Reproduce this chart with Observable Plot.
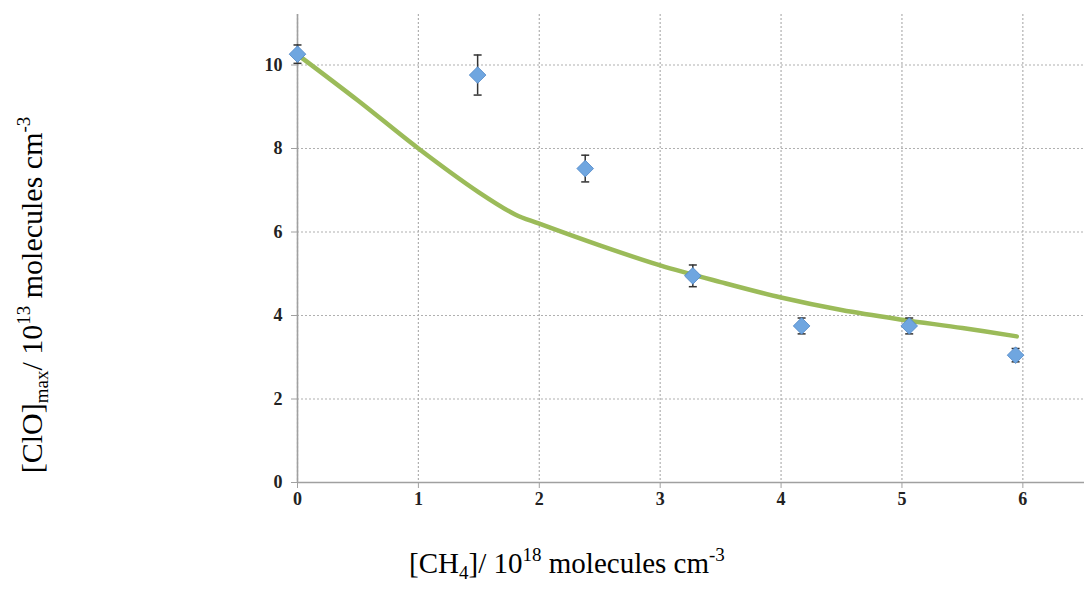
<!DOCTYPE html>
<html><head><meta charset="utf-8">
<script src="https://cdn.jsdelivr.net/npm/d3@7"></script>
<script src="https://cdn.jsdelivr.net/npm/@observablehq/plot@0.6"></script>
<style>
body{margin:0;background:#fff}
#chart{position:relative;width:1084px;height:589px}
#chart svg g[aria-label$="tick label"], #chart svg g[aria-label$="tick label"] text {
  font-size: 18px !important;
  font-family: 'Liberation Serif', 'Times New Roman', serif !important;
  font-weight: bold !important;
}
</style>
</head><body><div id="chart"></div>
<script>
// measured points: [CH4] (1e18 molecules cm-3), [ClO]max (1e13 molecules cm-3), error
const ch4 = [0, 1.49, 2.38, 3.27, 4.17, 5.06, 5.94];
const clo = [10.26, 9.76, 7.52, 4.95, 3.75, 3.75, 3.05];
const cloErr = [0.22, 0.48, 0.32, 0.26, 0.19, 0.19, 0.16];
// model curve
const fitX = [0, 0.5, 1, 1.5, 1.8, 2, 2.5, 3, 3.5, 4, 4.5, 5, 5.5, 5.95];
const fitY = [10.25, 9.15, 8.0, 6.95, 6.42, 6.2, 5.68, 5.2, 4.8, 4.43, 4.13, 3.9, 3.7, 3.5];
const xTicks = [0, 1, 2, 3, 4, 5, 6];
const yTicks = [0, 2, 4, 6, 8, 10];

const points = ch4.map((x, i) => ({x, y: clo[i], e: cloErr[i]}));
const fit = fitX.map((x, i) => ({x, y: fitY[i]}));

const cap = {draw(ctx) { ctx.moveTo(-4, 0); ctx.lineTo(4, 0); }};
const gridStyle = {stroke: "#b0b0b0", strokeOpacity: 1, strokeDasharray: "2,2", strokeWidth: 1.2};
const tickFont = "'Liberation Serif', 'Times New Roman', serif";

const chart = Plot.plot({
  width: 1084, height: 589,
  marginLeft: 297, marginRight: 0, marginTop: 14, marginBottom: 107,
  style: {fontFamily: tickFont, fontSize: "18px", color: "#222", background: "#fff"},
  x: {domain: [0, 6.51]},
  y: {domain: [0, 11.21]},
  marks: [
    Plot.gridX(xTicks, gridStyle),
    Plot.gridY(yTicks, gridStyle),
    Plot.ruleX([0], {stroke: "#a0a0a0", strokeWidth: 1.6}),
    Plot.ruleY([0], {stroke: "#a0a0a0", strokeWidth: 1.6}),
    Plot.axisX(xTicks, {tickSize: 6, tickPadding: 4, stroke: "#a0a0a0", fill: "#222", label: null, tickFormat: d => d}),
    Plot.axisY(yTicks, {tickSize: 6, tickPadding: 9, stroke: "#a0a0a0", fill: "#222", label: null, tickFormat: d => d}),
    Plot.line(fit, {x: "x", y: "y", stroke: "#9bbb59", strokeWidth: 4.5, curve: "catmull-rom"}),
    Plot.ruleX(points, {x: "x", y1: d => d.y - d.e, y2: d => d.y + d.e, stroke: "#333", strokeWidth: 1.5}),
    Plot.dot(points, {x: "x", y: d => d.y + d.e, symbol: cap, stroke: "#333", strokeWidth: 1.5, r: 4}),
    Plot.dot(points, {x: "x", y: d => d.y - d.e, symbol: cap, stroke: "#333", strokeWidth: 1.5, r: 4}),
    Plot.dot(points, {x: "x", y: "y", symbol: "diamond2", r: 7.5, fill: "#6fa6e0", stroke: "#4f86c6", strokeWidth: 0.8})
  ]
});
document.getElementById("chart").appendChild(chart);

const svg = d3.select(chart);
const tfont = "'Liberation Serif', 'Times New Roman', serif";
// x title
const xt = svg.append("text")
  .attr("x", 567).attr("y", 573)
  .attr("text-anchor", "middle")
  .attr("font-family", tfont).attr("font-size", 29).attr("fill", "#000");
xt.append("tspan").text("[CH");
xt.append("tspan").attr("font-size", 19).attr("dy", 6).text("4");
xt.append("tspan").attr("dy", -6).text("]/ 10");
xt.append("tspan").attr("font-size", 19).attr("dy", -12).text("18");
xt.append("tspan").attr("dy", 12).text(" molecules cm");
xt.append("tspan").attr("font-size", 19).attr("dy", -12).text("-3");
// y title
const yt = svg.append("text")
  .attr("transform", "translate(42,295) rotate(-90)")
  .attr("text-anchor", "middle")
  .attr("font-family", tfont).attr("font-size", 30).attr("fill", "#000");
yt.append("tspan").text("[ClO]");
yt.append("tspan").attr("font-size", 19).attr("dy", 6).text("max");
yt.append("tspan").attr("dy", -6).text("/ 10");
yt.append("tspan").attr("font-size", 19).attr("dy", -12).text("13");
yt.append("tspan").attr("dy", 12).text(" molecules cm");
yt.append("tspan").attr("font-size", 19).attr("dy", -12).text("-3");
</script>
</body></html>
